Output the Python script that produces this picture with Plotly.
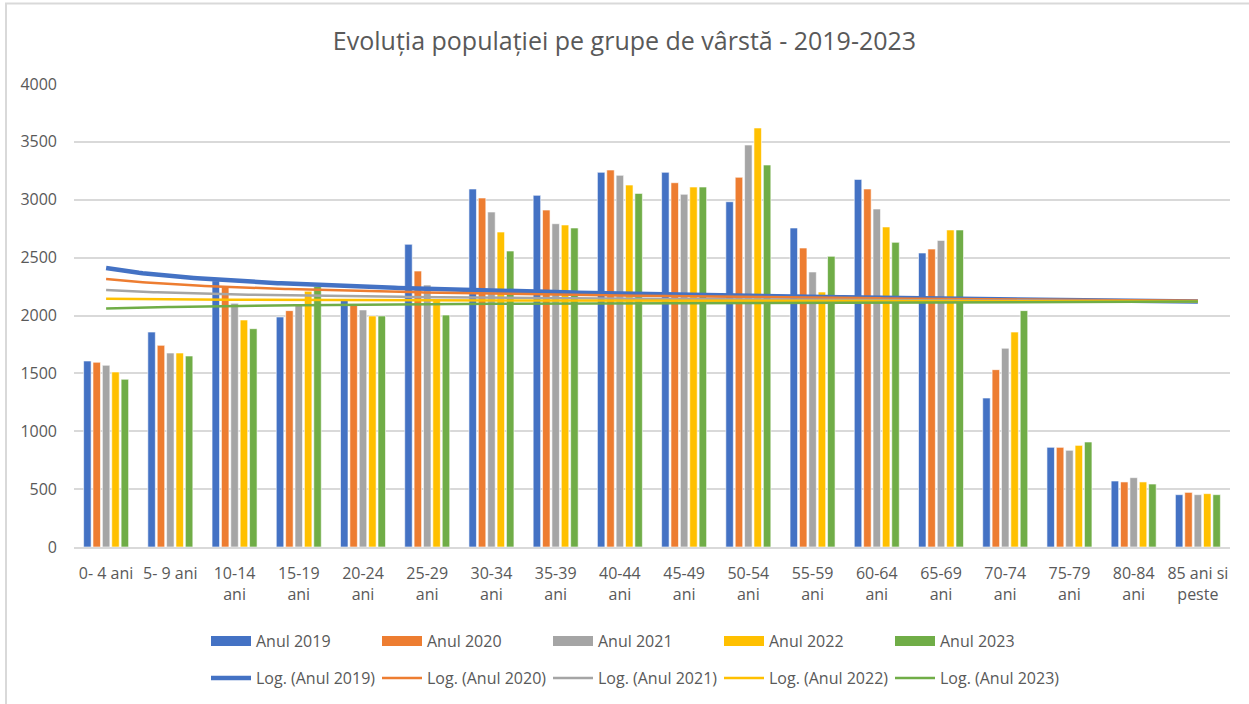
import numpy as np
import plotly.graph_objects as go

categories = ["0- 4 ani", "5- 9 ani", "10-14<br>ani", "15-19<br>ani", "20-24<br>ani", "25-29<br>ani",
              "30-34<br>ani", "35-39<br>ani", "40-44<br>ani", "45-49<br>ani", "50-54<br>ani", "55-59<br>ani",
              "60-64<br>ani", "65-69<br>ani", "70-74<br>ani", "75-79<br>ani", "80-84<br>ani", "85 ani si<br>peste"]

anul_2019 = [1607, 1857, 2300, 1987, 2134, 2615, 3093, 3038, 3237, 3237, 2983, 2756, 3176, 2540, 1287, 861, 570, 452]
anul_2020 = [1596, 1742, 2255, 2042, 2091, 2384, 3015, 2911, 3257, 3147, 3194, 2583, 3093, 2574, 1532, 861, 562, 472]
anul_2021 = [1570, 1676, 2105, 2091, 2048, 2263, 2894, 2793, 3211, 3047, 3473, 2376, 2920, 2649, 1717, 835, 599, 452]
anul_2022 = [1512, 1676, 1961, 2210, 1996, 2140, 2721, 2782, 3127, 3110, 3620, 2203, 2765, 2739, 1857, 878, 562, 461]
anul_2023 = [1449, 1650, 1886, 2250, 1996, 2004, 2557, 2756, 3055, 3110, 3300, 2511, 2632, 2739, 2042, 907, 544, 452]

series_names = ["Anul 2019", "Anul 2020", "Anul 2021", "Anul 2022", "Anul 2023"]
series_values = [anul_2019, anul_2020, anul_2021, anul_2022, anul_2023]
colors = ["#4472C4", "#ED7D31", "#A5A5A5", "#FFC000", "#70AD47"]
line_widths = [4.5, 2.5, 2.5, 2.5, 2.5]

x = np.arange(1, len(categories) + 1)
xs = np.linspace(1, len(categories), 300)

fig = go.Figure()
for name, vals, col in zip(series_names, series_values, colors):
    fig.add_trace(go.Bar(x=x, y=vals, name=name, marker=dict(color=col, line=dict(color="white", width=0.6)),
                         legendgroup=name, showlegend=False))
    # legend swatch (wide rectangle like the reference)
    fig.add_trace(go.Scatter(x=[None], y=[None], mode="lines", name=name, legendgroup=name,
                             line=dict(color=col, width=10), legend="legend"))

for name, vals, col, lw in zip(series_names, series_values, colors, line_widths):
    a, b = np.polyfit(np.log(x), np.array(vals, dtype=float), 1)
    fig.add_trace(go.Scatter(x=xs, y=a * np.log(xs) + b, mode="lines", name=f"Log. ({name})",
                             line=dict(color=col, width=lw), legend="legend2", hoverinfo="skip"))

W, H = 1249, 704
ml, mr, mt, mb = 74, 19, 84, 157
pw, ph = W - ml - mr, H - mt - mb

def px(xp):
    return (xp - ml) / pw

def py(yp):
    return (H - mb - yp) / ph

legend_common = dict(orientation="h", xanchor="left", yanchor="middle", itemwidth=40,
                     entrywidth=116, entrywidthmode="pixels", font=dict(size=16, color="#595959"),
                     bgcolor="rgba(0,0,0,0)", traceorder="normal")

fig.update_layout(
    width=W, height=H,
    margin=dict(l=ml, r=mr, t=mt, b=mb, autoexpand=False),
    paper_bgcolor="white", plot_bgcolor="white",
    font=dict(family="Open Sans", size=16, color="#595959"),
    title=dict(text="Evoluția populației pe grupe de vârstă - 2019-2023", x=0.5, xanchor="center",
               y=1 - 41 / H, yanchor="middle", font=dict(size=25, color="#595959")),
    barmode="group", bargap=0.27, bargroupgap=0.2,
    xaxis=dict(tickmode="array", tickvals=list(x), ticktext=categories, range=[0.5, len(categories) + 0.5],
               showgrid=False, zeroline=False, showline=True, linecolor="#d9d9d9", linewidth=1.5,
               ticks="", tickfont=dict(size=16, color="#595959"), ticklabelstandoff=11),
    yaxis=dict(range=[0, 4000], dtick=500, showgrid=True, gridcolor="#d9d9d9", gridwidth=1.5,
               zeroline=False, showline=False, ticks="", tickfont=dict(size=16, color="#595959"),
               ticklabelstandoff=16),
    legend=dict(x=px(206), y=py(641), **legend_common),
    legend2=dict(x=px(206), y=py(678), **legend_common),
    shapes=[dict(type="rect", xref="paper", yref="paper", x0=px(6), x1=px(W + 20), y0=py(H + 20), y1=py(3.5),
                 line=dict(color="#d9d9d9", width=2), fillcolor="rgba(0,0,0,0)", layer="below")],
)

fig.write_html("out.html", config={"displayModeBar": False},
               post_script="document.body.style.margin='0px';")
